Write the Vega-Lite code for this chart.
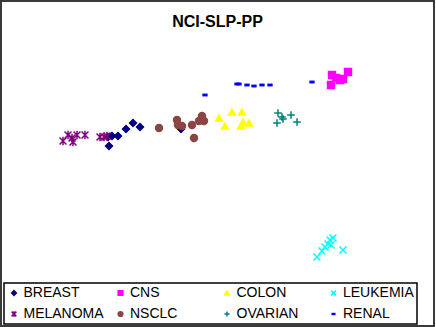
{
  "$schema": "https://vega.github.io/schema/vega-lite/v6.json",
  "width": 433,
  "height": 325,
  "autosize": "none",
  "padding": 1,
  "background": "white",
  "title": {"text": "NCI-SLP-PP", "anchor": "middle", "frame": "group", "offset": -29, "fontSize": 16, "fontWeight": "bold", "font": "Liberation Sans", "color": "black"},
  "config": {
    "view": {"stroke": "#3a3a3a", "strokeWidth": 2},
    "legend": {
      "orient": "none", "legendX": 3, "legendY": 282, "direction": "horizontal",
      "columns": 4, "gridAlign": "all", "columnPadding": 9.5, "rowPadding": 7,
      "padding": 3, "strokeColor": "black", "strokeWidth": 1.5,
      "labelFont": "Liberation Sans", "labelFontSize": 14, "labelColor": "black",
      "labelOffset": 2.5, "symbolSize": 22, "symbolStrokeWidth": 1.5, "title": null
    }
  },
  "data": {"values": [
    {"type": "BREAST", "x": 108, "y": 190}, {"type": "BREAST", "x": 112, "y": 191}, {"type": "BREAST", "x": 118, "y": 191}, {"type": "BREAST", "x": 109, "y": 181},
    {"type": "BREAST", "x": 126, "y": 198}, {"type": "BREAST", "x": 133, "y": 204}, {"type": "BREAST", "x": 140, "y": 200}, {"type": "BREAST", "x": 181, "y": 198},
    {"type": "CNS", "x": 332, "y": 252}, {"type": "CNS", "x": 331, "y": 242}, {"type": "CNS", "x": 336, "y": 249}, {"type": "CNS", "x": 340, "y": 247},
    {"type": "CNS", "x": 343, "y": 248}, {"type": "CNS", "x": 348, "y": 255},
    {"type": "COLON", "x": 219, "y": 209}, {"type": "COLON", "x": 225, "y": 201}, {"type": "COLON", "x": 232, "y": 215}, {"type": "COLON", "x": 242, "y": 215},
    {"type": "COLON", "x": 243, "y": 205}, {"type": "COLON", "x": 241, "y": 201}, {"type": "COLON", "x": 249, "y": 204},
    {"type": "LEUKEMIA", "x": 317, "y": 70}, {"type": "LEUKEMIA", "x": 322, "y": 76}, {"type": "LEUKEMIA", "x": 325, "y": 80}, {"type": "LEUKEMIA", "x": 328, "y": 83},
    {"type": "LEUKEMIA", "x": 330, "y": 87}, {"type": "LEUKEMIA", "x": 333, "y": 89}, {"type": "LEUKEMIA", "x": 331, "y": 82}, {"type": "LEUKEMIA", "x": 343, "y": 77},
    {"type": "MELANOMA", "x": 63, "y": 186}, {"type": "MELANOMA", "x": 68, "y": 192}, {"type": "MELANOMA", "x": 72, "y": 189}, {"type": "MELANOMA", "x": 73, "y": 185},
    {"type": "MELANOMA", "x": 77, "y": 192}, {"type": "MELANOMA", "x": 85, "y": 192}, {"type": "MELANOMA", "x": 100, "y": 190}, {"type": "MELANOMA", "x": 104, "y": 190},
    {"type": "MELANOMA", "x": 107, "y": 191},
    {"type": "NSCLC", "x": 159, "y": 199}, {"type": "NSCLC", "x": 177, "y": 207}, {"type": "NSCLC", "x": 178, "y": 202}, {"type": "NSCLC", "x": 182, "y": 201},
    {"type": "NSCLC", "x": 192, "y": 202}, {"type": "NSCLC", "x": 194, "y": 189}, {"type": "NSCLC", "x": 199, "y": 206}, {"type": "NSCLC", "x": 202, "y": 211},
    {"type": "NSCLC", "x": 204, "y": 206},
    {"type": "OVARIAN", "x": 278, "y": 214}, {"type": "OVARIAN", "x": 282, "y": 210}, {"type": "OVARIAN", "x": 283, "y": 208}, {"type": "OVARIAN", "x": 277, "y": 204},
    {"type": "OVARIAN", "x": 291, "y": 212}, {"type": "OVARIAN", "x": 297, "y": 205},
    {"type": "RENAL", "x": 205, "y": 232}, {"type": "RENAL", "x": 237, "y": 243}, {"type": "RENAL", "x": 239, "y": 243}, {"type": "RENAL", "x": 247, "y": 242},
    {"type": "RENAL", "x": 254, "y": 241}, {"type": "RENAL", "x": 262, "y": 242}, {"type": "RENAL", "x": 270, "y": 242}, {"type": "RENAL", "x": 312, "y": 245}
  ]},
  "mark": {"type": "point", "filled": true, "size": 48, "strokeWidth": 1.5, "opacity": 1},
  "encoding": {
    "x": {"field": "x", "type": "quantitative", "scale": {"domain": [1, 434], "nice": false, "zero": false}, "axis": null},
    "y": {"field": "y", "type": "quantitative", "scale": {"domain": [1, 326], "nice": false, "zero": false}, "axis": null},
    "fill": {"field": "type", "type": "nominal", "scale": {"domain": ["BREAST", "CNS", "COLON", "LEUKEMIA", "MELANOMA", "NSCLC", "OVARIAN", "RENAL"], "range": ["#000080", "#ff00ff", "#ffff00", "#00ffff", "#800080", "#8b4543", "#008080", "#0000ff"]}},
    "stroke": {"field": "type", "type": "nominal", "scale": {"domain": ["BREAST", "CNS", "COLON", "LEUKEMIA", "MELANOMA", "NSCLC", "OVARIAN", "RENAL"], "range": ["#000080", "#ff00ff", "#ffff00", "#00ffff", "#800080", "#8b4543", "#008080", "#0000ff"]}},
    "shape": {"field": "type", "type": "nominal", "scale": {"domain": ["BREAST", "CNS", "COLON", "LEUKEMIA", "MELANOMA", "NSCLC", "OVARIAN", "RENAL"], "range": ["diamond", "square", "triangle-up", "M-1,-1L1,1M-1,1L1,-1", "M-1,-1L1,1M-1,1L1,-1M0,-1.2L0,1.2", "circle", "M-1.1,0L1.1,0M0,-1.1L0,1.1", "M-0.55,-0.2L0.55,-0.2L0.55,0.2L-0.55,0.2Z"]}}
  }
}
